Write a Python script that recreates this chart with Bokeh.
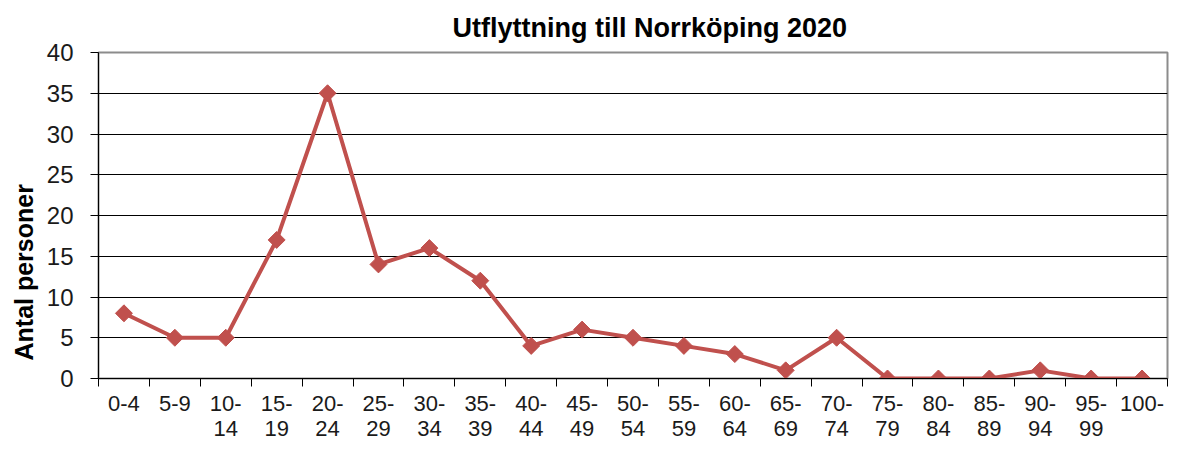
import math
from bokeh.plotting import figure
from bokeh.models import FixedTicker, Range1d, Title
from bokeh.embed import file_html
from bokeh.resources import INLINE

categories = ["0-4", "5-9", "10-14", "15-19", "20-24", "25-29", "30-34", "35-39",
              "40-44", "45-49", "50-54", "55-59", "60-64", "65-69", "70-74", "75-79",
              "80-84", "85-89", "90-94", "95-99", "100-"]
tick_labels = ["0-4", "5-9", "10-\n14", "15-\n19", "20-\n24", "25-\n29", "30-\n34", "35-\n39",
               "40-\n44", "45-\n49", "50-\n54", "55-\n59", "60-\n64", "65-\n69", "70-\n74", "75-\n79",
               "80-\n84", "85-\n89", "90-\n94", "95-\n99", "100-"]
values = [8, 5, 5, 17, 35, 14, 16, 12, 4, 6, 5, 4, 3, 1, 5, 0, 0, 0, 1, 0, 0]
y_ticks = [0, 5, 10, 15, 20, 25, 30, 35, 40]

n = len(categories)
xs = [i + 0.5 for i in range(n)]

FONT = "Liberation Sans"
COLOR = "#C0504D"
TXT = "#1a1a1a"

p = figure(width=1169, height=443, output_backend="svg", toolbar_location=None,
           x_range=Range1d(0, n), y_range=Range1d(0, 40),
           min_border_left=98, min_border_right=2, min_border_top=52, min_border_bottom=60)

p.title = Title(text="Utflyttning till Norrköping 2020", align="left",
                text_font=FONT, text_font_size="27px", text_font_style="bold",
                text_color="black", standoff=19, offset=354)

p.line(xs, values, line_color=COLOR, line_width=4)
p.scatter(xs, values, marker="square", angle=math.pi / 4, size=12,
          fill_color=COLOR, line_color=COLOR)

# x axis: labels at category centres, tick marks at category boundaries
xa = p.xaxis[0]
xa.ticker = FixedTicker(ticks=xs, minor_ticks=list(range(n + 1)))
xa.major_label_overrides = {x: lab for x, lab in zip(xs, tick_labels)}
xa.major_tick_line_color = None
xa.major_tick_out = 0
xa.major_tick_in = 0
xa.minor_tick_line_color = "black"
xa.minor_tick_out = 8
xa.minor_tick_in = 0
xa.axis_line_color = "black"
xa.major_label_text_font = FONT
xa.major_label_text_font_size = "22px"
xa.major_label_text_line_height = 1.0
xa.major_label_text_color = TXT
xa.major_label_standoff = 4

# y axis
ya = p.yaxis[0]
ya.ticker = FixedTicker(ticks=y_ticks, minor_ticks=[])
ya.major_tick_line_color = "black"
ya.major_tick_out = 8
ya.major_tick_in = 0
ya.minor_tick_line_color = None
ya.axis_line_color = "black"
ya.major_label_text_font = FONT
ya.major_label_text_font_size = "24px"
ya.major_label_text_color = TXT
ya.major_label_standoff = 17

p.add_layout(Title(text="Antal personer", align="left", offset=18,
                   text_font=FONT, text_font_size="25px", text_font_style="bold",
                   text_color="black", standoff=12), "left")

p.xgrid.grid_line_color = None
p.ygrid.ticker = FixedTicker(ticks=y_ticks)
p.ygrid.grid_line_color = "black"
p.ygrid.grid_line_width = 1

p.outline_line_color = "#8c8c8c"
p.outline_line_width = 2
p.background_fill_color = "white"
p.border_fill_color = "white"

open("out.html", "w").write(file_html(p, INLINE))
